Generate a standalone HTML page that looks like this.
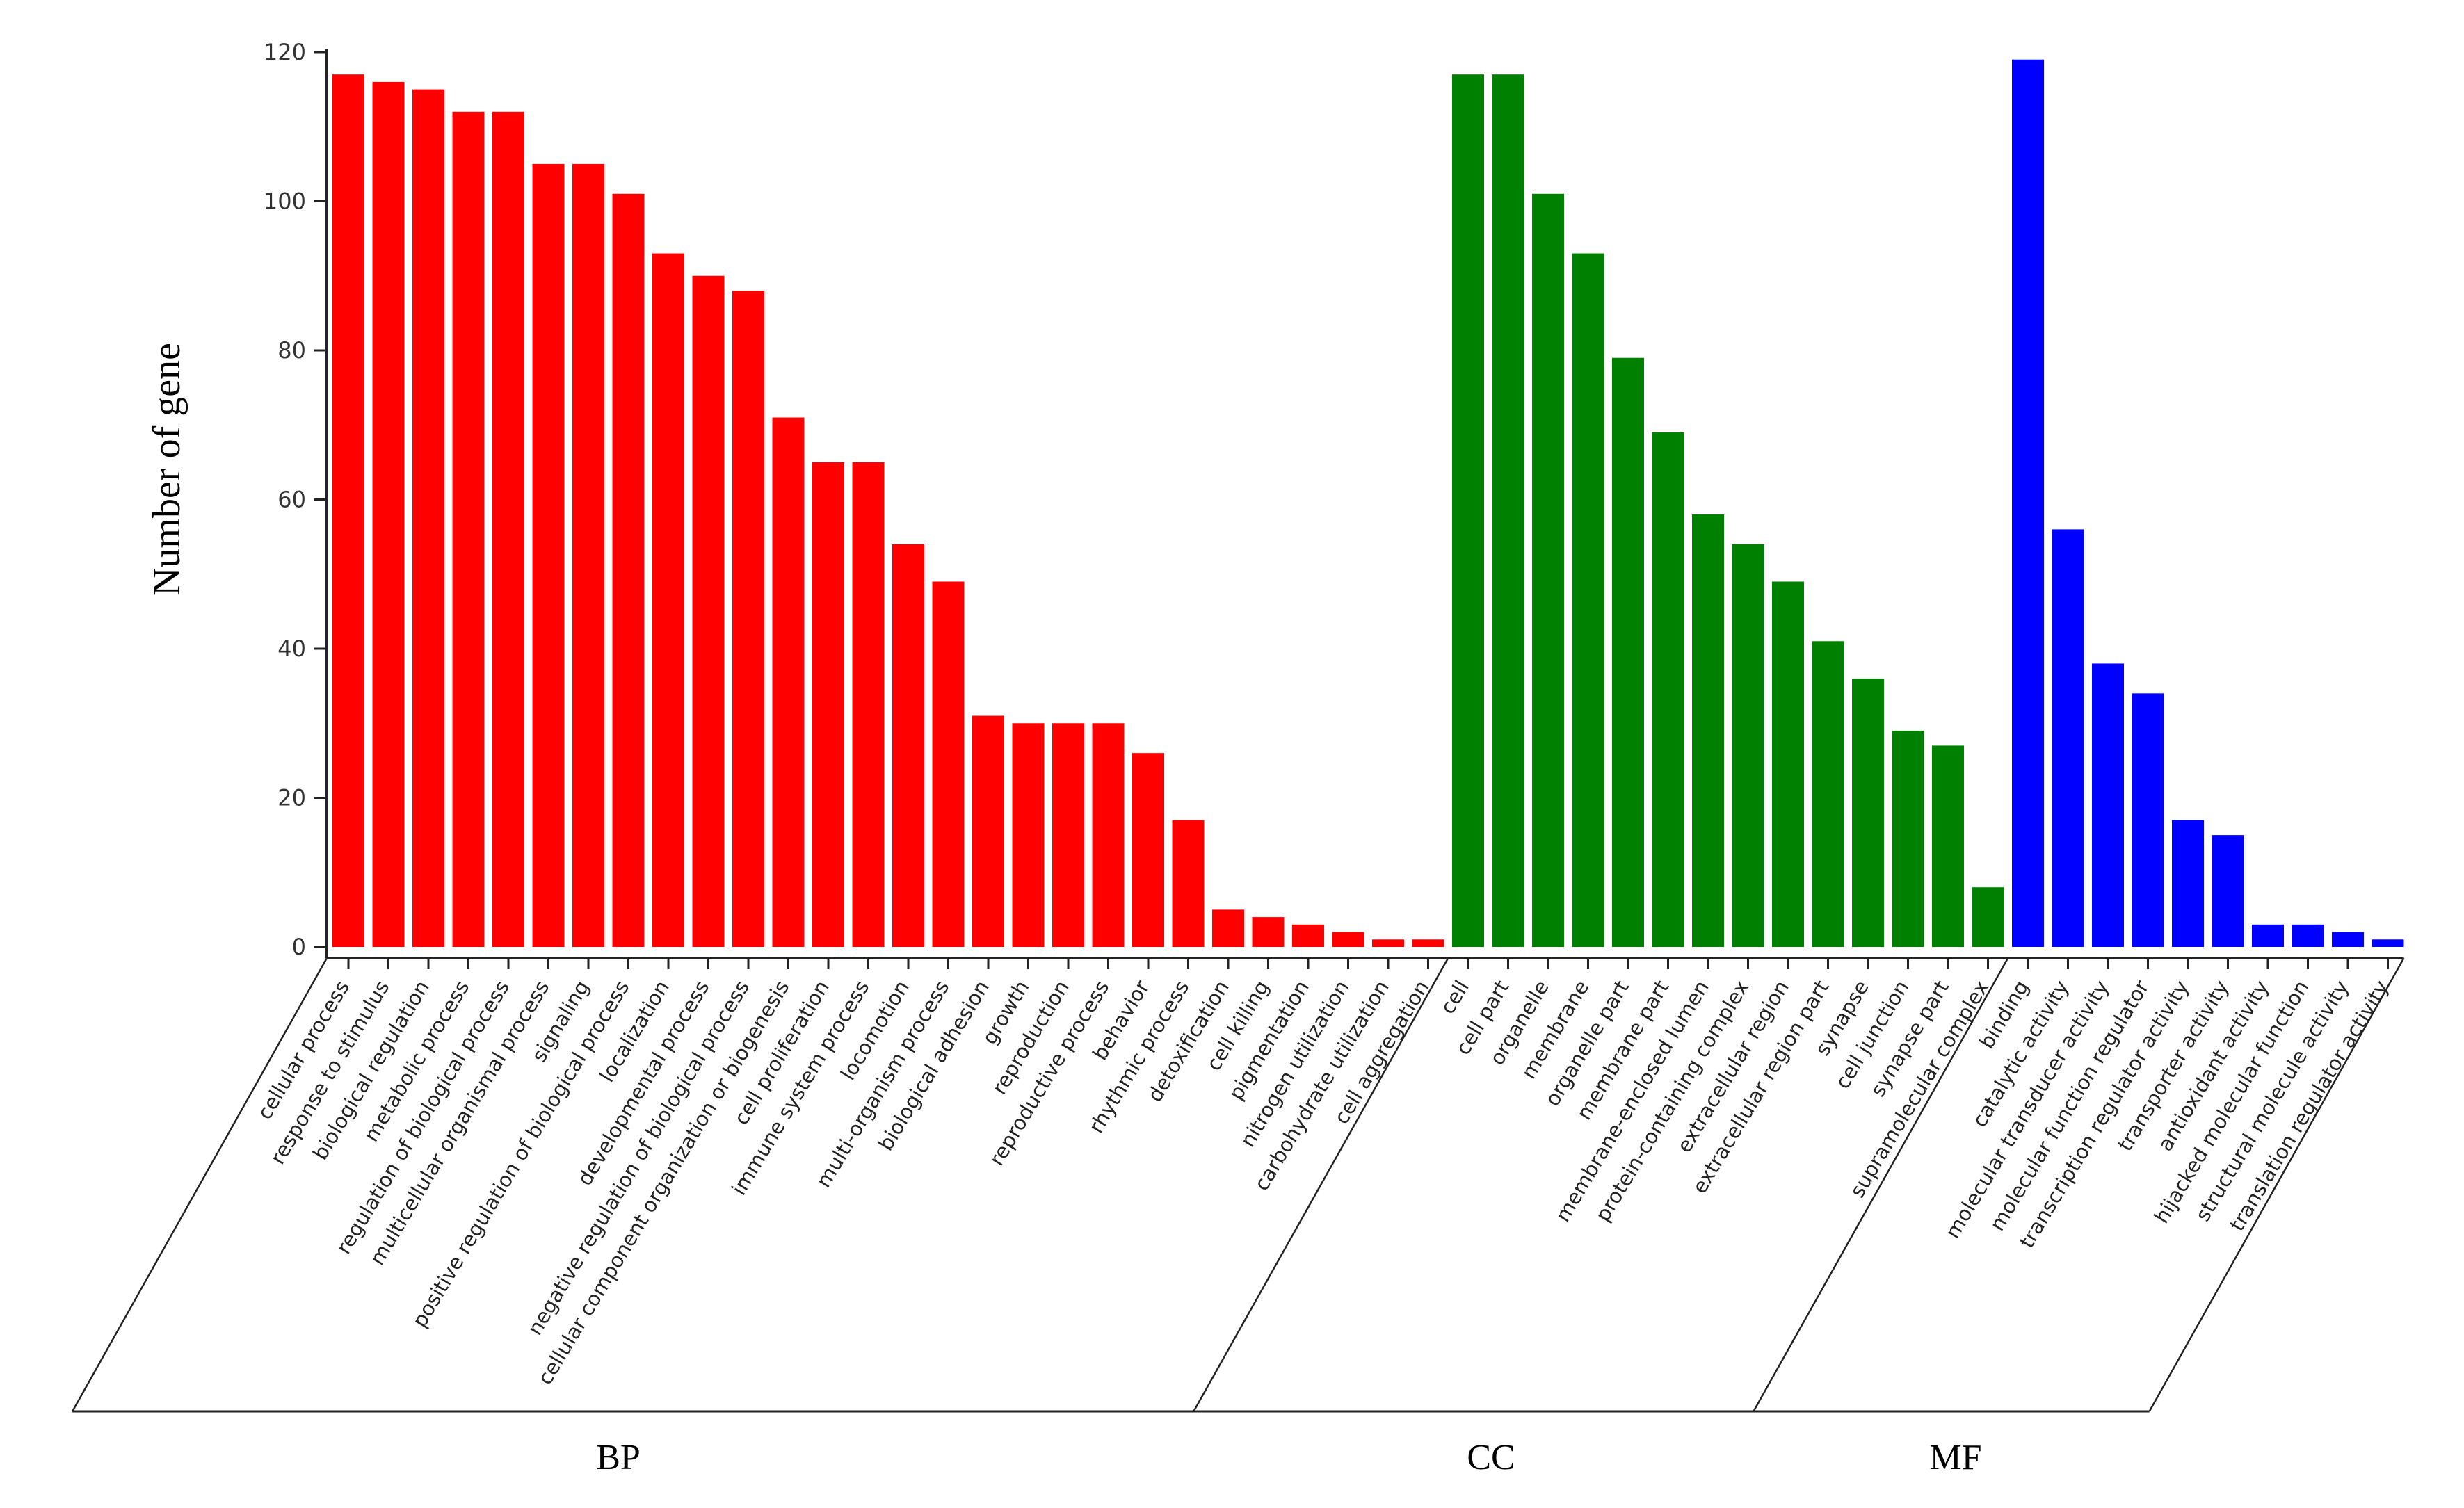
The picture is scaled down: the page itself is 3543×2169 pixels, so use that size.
<!DOCTYPE html>
<html><head><meta charset="utf-8"><style>
html,body{margin:0;padding:0;background:#fff;}
svg{display:block;}
</style></head><body>
<svg id="chart" width="3543" height="2169" viewBox="0 0 3543 2169" xmlns="http://www.w3.org/2000/svg">
<text x="0" y="0" transform="translate(258,675) rotate(-90)" text-anchor="middle" font-family="Liberation Serif, serif" font-size="56" fill="#000">Number of gene</text>
<text x="889" y="2113" text-anchor="middle" font-family="Liberation Serif, serif" font-size="52">BP</text>
<text x="2144" y="2113" text-anchor="middle" font-family="Liberation Serif, serif" font-size="52">CC</text>
<text x="2812" y="2113" text-anchor="middle" font-family="Liberation Serif, serif" font-size="52">MF</text>
</svg>
<script>
const bpCategories=["cellular process","response to stimulus","biological regulation","metabolic process","regulation of biological process","multicellular organismal process","signaling","positive regulation of biological process","localization","developmental process","negative regulation of biological process","cellular component organization or biogenesis","cell proliferation","immune system process","locomotion","multi-organism process","biological adhesion","growth","reproduction","reproductive process","behavior","rhythmic process","detoxification","cell killing","pigmentation","nitrogen utilization","carbohydrate utilization","cell aggregation"];
const bpValues=[117,116,115,112,112,105,105,101,93,90,88,71,65,65,54,49,31,30,30,30,26,17,5,4,3,2,1,1];
const ccCategories=["cell","cell part","organelle","membrane","organelle part","membrane part","membrane-enclosed lumen","protein-containing complex","extracellular region","extracellular region part","synapse","cell junction","synapse part","supramolecular complex"];
const ccValues=[117,117,101,93,79,69,58,54,49,41,36,29,27,8];
const mfCategories=["binding","catalytic activity","molecular transducer activity","molecular function regulator","transcription regulator activity","transporter activity","antioxidant activity","hijacked molecular function","structural molecule activity","translation regulator activity"];
const mfValues=[119,56,38,34,17,15,3,3,2,1];
const yTicks=[0,20,40,60,80,100,120];

const NS="http://www.w3.org/2000/svg";
const svg=document.getElementById('chart');
const axisX=470, axisY=1378, y0=1362, y120=75, firstC=501, pitch=57.5, barW=46, bottomY=2030;
const yScale=v=>y0+(y120-y0)*v/120;
const xScale=i=>firstC+i*pitch;
const dxDiag=(bottomY-axisY)/Math.tan(60.7*Math.PI/180);
function mk(tag,attrs){const e=document.createElementNS(NS,tag);for(const k in attrs)e.setAttribute(k,attrs[k]);svg.appendChild(e);return e;}

const groups=[[bpCategories,bpValues,'#ff0000','bp'],[ccCategories,ccValues,'#008000','cc'],[mfCategories,mfValues,'#0000ff','mf']];
let idx=0;const bounds=[axisX];
groups.forEach(([cats,vals,col,g])=>{
  cats.forEach((c,j)=>{
    const cx=xScale(idx);
    const r=mk('rect',{x:cx-barW/2,y:yScale(vals[j]),width:barW,height:y0-yScale(vals[j]),fill:col});
    
    
    const t=mk('line',{x1:cx,y1:axisY,x2:cx,y2:axisY+16,stroke:'#222','stroke-width':3});
    
    
    const tx=mk('text',{x:0,y:0,transform:`translate(${cx+2},${axisY+40}) rotate(-59)`,'text-anchor':'end','font-family':'DejaVu Sans, Liberation Sans, sans-serif','font-size':29,fill:'#222'});
    tx.textContent=c;
    
    
    idx++;
  });
  bounds.push(xScale(idx-0.5));
});
bounds[bounds.length-1]=xScale(idx-1)+pitch*0.4;
let a=mk('line',{x1:axisX,y1:y120-4,x2:axisX,y2:axisY,stroke:'#222','stroke-width':4});

a=mk('line',{x1:axisX,y1:axisY,x2:bounds[3],y2:axisY,stroke:'#222','stroke-width':4});

yTicks.forEach(v=>{
  const y=yScale(v);
  const l=mk('line',{x1:axisX-18,y1:y,x2:axisX,y2:y,stroke:'#222','stroke-width':3});
  
  
  const t=mk('text',{x:axisX-30,y:y+11,'text-anchor':'end','font-family':'DejaVu Sans, Liberation Sans, sans-serif','font-size':32,fill:'#333'});
  t.textContent=v;
  
  
});
bounds.forEach((bx)=>{
  const d=mk('line',{x1:bx,y1:axisY,x2:bx-dxDiag,y2:bottomY,stroke:'#222','stroke-width':2.5});
  
  
});
a=mk('line',{x1:axisX-dxDiag,y1:bottomY,x2:bounds[3]-dxDiag,y2:bottomY,stroke:'#222','stroke-width':3});

</script>
</body></html>
